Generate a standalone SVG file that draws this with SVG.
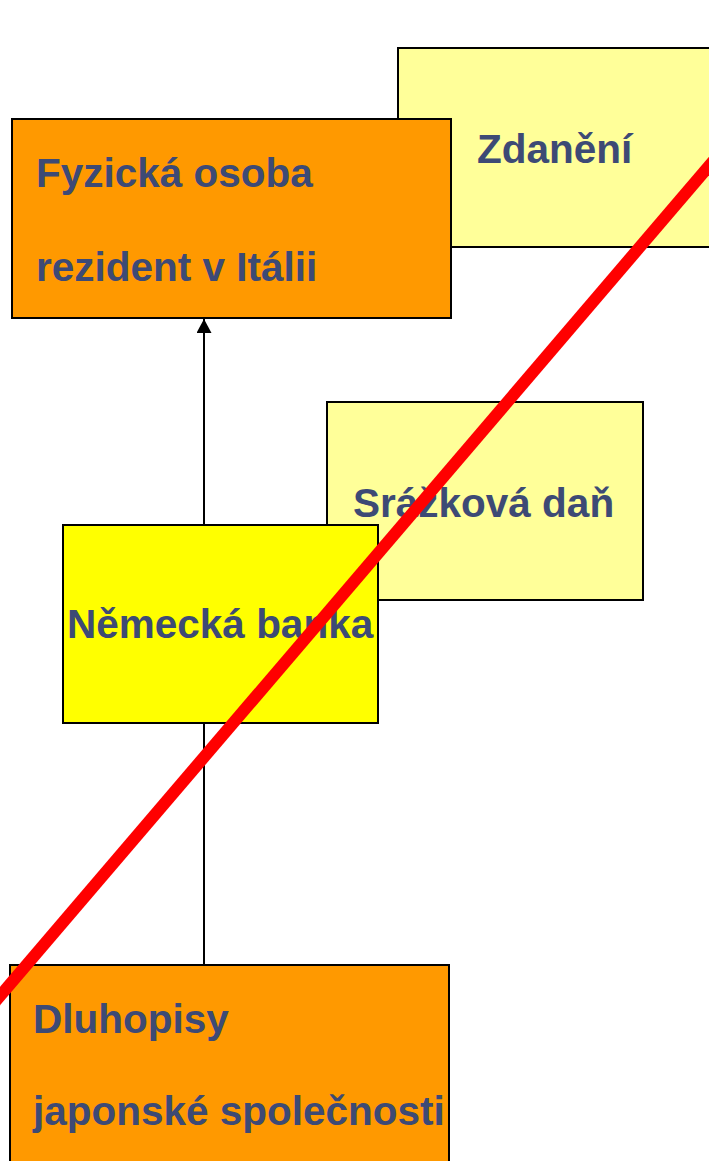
<svg xmlns="http://www.w3.org/2000/svg" width="709" height="1161" viewBox="0 0 709 1161">
  <style>
    .box { stroke: #000000; stroke-width: 2; }
    .orange { fill: #FF9900; }
    .pale { fill: #FFFF99; }
    .yellow { fill: #FFFF00; }
    .label { font-family: "Liberation Sans", Arial, sans-serif; font-weight: bold; font-size: 40.5px; fill: #3D4A75; }
    .flow { stroke: #000000; stroke-width: 2; fill: none; }
    .cross { stroke: #FF0000; stroke-width: 12; fill: none; }
  </style>
  <defs>
    <marker id="arrow" markerUnits="userSpaceOnUse" markerWidth="16" markerHeight="15" refX="14" refY="7.5" orient="auto">
      <path d="M0,0 L14,7.5 L0,15 Z" fill="#000000"/>
    </marker>
  </defs>

  <!-- background boxes -->
  <g id="node-zdaneni">
    <rect class="box pale" x="398" y="48" width="330" height="199"/>
    <text class="label" x="477" y="163">Zdanění</text>
  </g>

  <g id="node-srazkova-dan">
    <rect class="box pale" x="327" y="402" width="316" height="198"/>
    <text class="label" x="353" y="517">Srážková daň</text>
  </g>

  <!-- flow from the bonds up to the resident -->
  <g id="connectors">
    <line class="flow" x1="204" y1="965" x2="204" y2="319" marker-end="url(#arrow)"/>
  </g>

  <g id="node-fyzicka-osoba">
    <rect class="box orange" x="12" y="119" width="439" height="199"/>
    <text class="label" x="36" y="187">Fyzická osoba</text>
    <text class="label" x="36" y="281">rezident v Itálii</text>
  </g>

  <g id="node-nemecka-banka">
    <rect class="box yellow" x="63" y="525" width="315" height="198"/>
    <text class="label" x="67" y="638">Německá banka</text>
  </g>

  <g id="node-dluhopisy">
    <rect class="box orange" x="10" y="965" width="439" height="220"/>
    <text class="label" x="33" y="1033">Dluhopisy</text>
    <text class="label" x="33" y="1125">japonské společnosti</text>
  </g>

  <!-- strike-through across the whole scheme -->
  <g id="strike">
    <line class="cross" x1="-20" y1="1019.4" x2="730" y2="141.4"/>
  </g>
</svg>
